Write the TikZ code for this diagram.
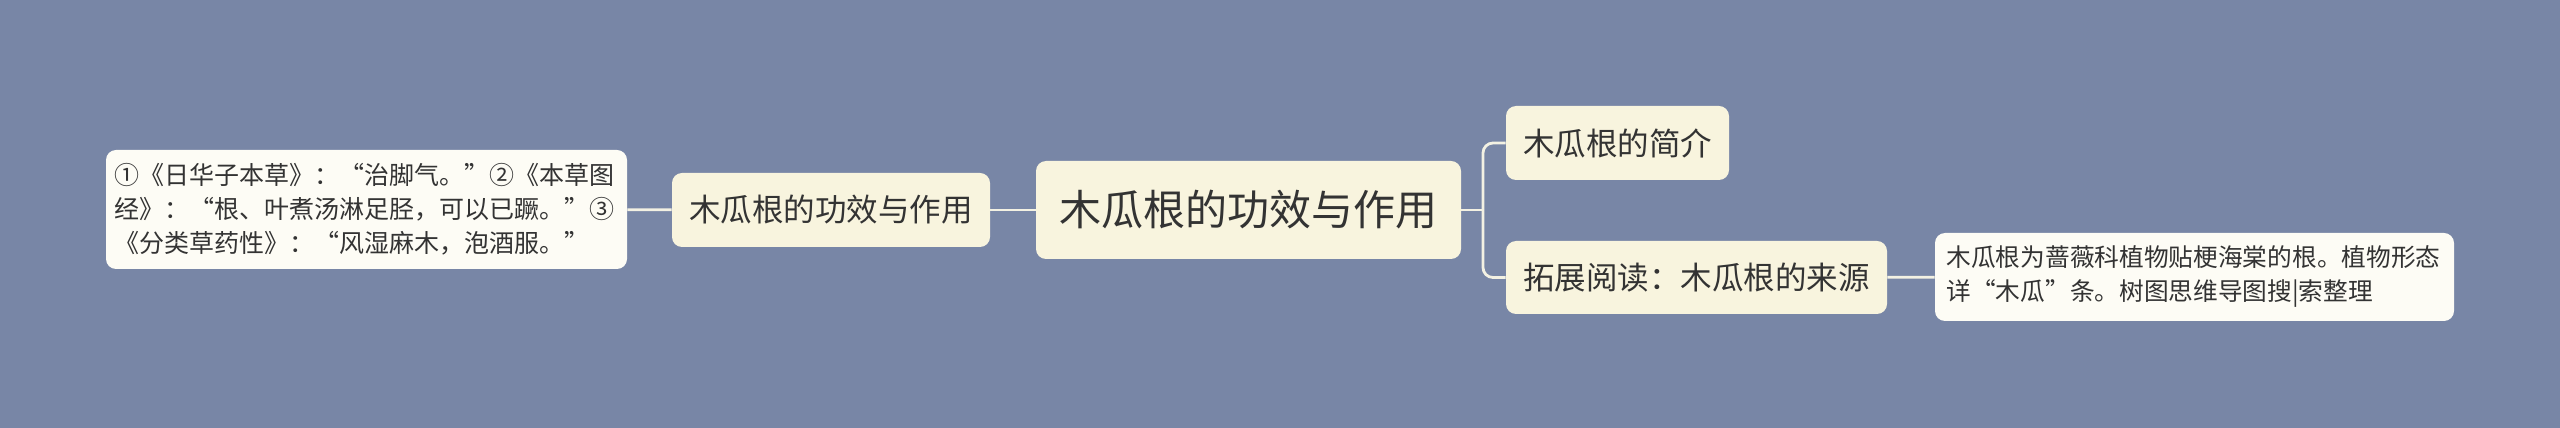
\documentclass[tikz,border=0pt]{standalone}
\usepackage{fontspec}
\setmainfont{Noto Sans CJK SC}
\usepackage{tikz}

\definecolor{mapbg}{HTML}{7886A6}
\definecolor{topicfill}{HTML}{F8F4DE}
\definecolor{leaffill}{HTML}{FDFCF5}
\definecolor{linkcol}{HTML}{F3F1E3}
\definecolor{inkcol}{HTML}{333333}

\begin{document}
\begin{tikzpicture}[x=0.5pt,y=0.5pt,
	every node/.style={inner sep=0pt,text=inkcol,rounded corners=5pt},
	root/.style={fill=topicfill,minimum width=212.5pt,minimum height=49pt,font=\fontsize{21pt}{25pt}\selectfont},
	topic/.style={fill=topicfill,minimum height=37pt,font=\fontsize{15.75pt}{19pt}\selectfont},
	leaf/.style={fill=leaffill,align=left,font=\fontsize{12.5pt}{17pt}\selectfont},
	link/.style={draw=linkcol,line width=1.4pt}]

\fill[mapbg] (0,0) rectangle (2560,428);
\useasboundingbox (0,0) rectangle (2560,428);

\node[root]   (main)      at (1248.5,218)	{木瓜根的功效与作用};
 \node[topic,minimum width=159pt]   (effect)  at (831,218)   {木瓜根的功效与作用};
	\node[leaf,minimum width=260.5pt,minimum height=59.5pt,text width=252pt]   (quotes)  at (366.5,218.5)
		{①《日华子本草》：“治脚气。”②《本草图\\经》：“根、叶煮汤淋足胫，可以已蹶。”③\\《分类草药性》：“风湿麻木，泡酒服。”};
	\node[topic,minimum width=111.5pt]   (intro)   at (1617.5,285)  {木瓜根的简介};
	\node[topic,minimum width=190.5pt,minimum height=36.5pt]   (source)  at (1696.5,150.5)  {拓展阅读：木瓜根的来源};
	\node[leaf,minimum width=259.5pt,minimum height=44pt,text width=248pt,font=\fontsize{12.35pt}{17pt}\selectfont]   (origin)  at (2194.5,151)
		{木瓜根为蔷薇科植物贴梗海棠的根。植物形态\\详“木瓜”条。树图思维导图搜|索整理};

\coordinate (fork) at (1483,218);

	\path[link] (main)  edge (effect)
		(effect) edge (quotes)
		(source) edge (origin);
	\draw[link] (main.east) -- (fork);
	\draw[link,rounded corners=5pt] (fork) |- (intro.west);
	\draw[link,rounded corners=5pt] (fork) |- (source.west);

\end{tikzpicture}
\end{document}
